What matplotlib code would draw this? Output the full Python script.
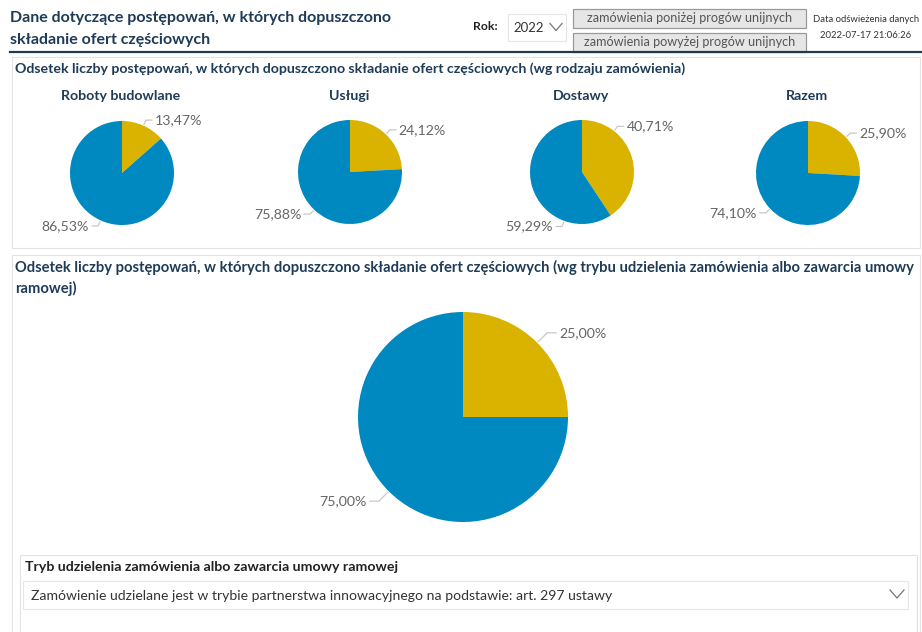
import numpy as np
import matplotlib.pyplot as plt
from matplotlib.patches import Rectangle

W, H = 922, 632

rodzaje = ['Roboty budowlane', 'Usługi', 'Dostawy', 'Razem']
dopuszczono = [13.47, 24.12, 40.71, 25.90]
niedopuszczono = [86.53, 75.88, 59.29, 74.10]

tryb_dopuszczono = 25.00
tryb_niedopuszczono = 75.00

rok = '2022'
odswiezenie = '2022-07-17 21:06:26'
tryb = 'Zamówienie udzielane jest w trybie partnerstwa innowacyjnego na podstawie: art. 297 ustawy'

ZOLTY = '#D9B300'
NIEBIESKI = '#0089C0'
GRANAT = '#1E3B57'
SZARY = '#666666'
LINIA = '#C8C8C8'

plt.rcParams['font.family'] = ['Lato', 'DejaVu Sans']

fig = plt.figure(figsize=(W / 100, H / 100), dpi=100)
bg = fig.add_axes([0, 0, 1, 1])
bg.set_xlim(0, W)
bg.set_ylim(H, 0)
bg.axis('off')


def ramka(x0, y0, x1, y1, kolor='#E3E3E3', fill='none', lw=0.8):
    bg.add_patch(Rectangle((x0, y0), x1 - x0, y1 - y0, facecolor=fill,
                           edgecolor=kolor, lw=lw))


def chevron(x, y, w=7, h=4, kolor='#777777'):
    bg.plot([x - w, x, x + w], [y - h, y + h, y - h], color=kolor, lw=0.9)


def fmt(v):
    return f'{v:.2f}%'.replace('.', ',')


def kolo(cx, cy, r, wartosci, katy=None, wydl=6, poz=6, rozm=10.2):
    ax = fig.add_axes([(cx - r) / W, 1 - (cy + r) / H, 2 * r / W, 2 * r / H])
    wedges, _ = ax.pie(wartosci, colors=[ZOLTY, NIEBIESKI], startangle=90,
                       counterclock=False, radius=1,
                       wedgeprops=dict(linewidth=0))
    ax.set_xlim(-1, 1)
    ax.set_ylim(-1, 1)
    for i, (w, v) in enumerate(zip(wedges, wartosci)):
        # etykieta w polowie wycinka, chyba ze kat podany recznie
        kat = (w.theta1 + w.theta2) / 2 if katy is None else katy[i]
        c, s = np.cos(np.radians(kat)), np.sin(np.radians(kat))
        znak = 1 if c >= 0 else -1
        r0 = (r + 1.5) / r
        r1 = (r + wydl) / r
        x1, y1 = r1 * c, r1 * s
        x2 = x1 + znak * poz / r
        ax.plot([r0 * c, x1, x2], [r0 * s, y1, y1], color=LINIA, lw=0.9,
                clip_on=False)
        ax.text(x2 + znak * 3 / r, y1, fmt(v), ha='left' if znak > 0 else 'right',
                va='center', color=SZARY, fontsize=rozm)


# naglowek
bg.text(10, 18, 'Dane dotyczące postępowań, w których dopuszczono', fontsize=11.5,
        fontweight='bold', color=GRANAT, va='center')
bg.text(10, 40, 'składanie ofert częściowych', fontsize=11.5,
        fontweight='bold', color=GRANAT, va='center')
bg.plot([10, W], [52, 52], color='#1F3B4D', lw=1.6)

bg.text(473, 27, 'Rok:', fontsize=8.8, fontweight='bold', color='#222222', va='center')
ramka(508, 14, 566, 41, kolor='#E6E6E6')
bg.text(513, 28, rok, fontsize=9.5, color='#333333', va='center')
chevron(556, 27, w=6, h=3.5)

for y0, napis in [(9, 'zamówienia poniżej progów unijnych'),
                  (33, 'zamówienia powyżej progów unijnych')]:
    ramka(573, y0, 806, y0 + 19, kolor='#9A9A9A', fill='#E6E6E6', lw=0.9)
    bg.text(689.5, y0 + 9.5, napis, fontsize=9.1, color='#555555',
            ha='center', va='center')

bg.text(866, 19, 'Data odświeżenia danych', fontsize=6.8, color='#333333',
        ha='center', va='center')
bg.text(866, 36, odswiezenie, fontsize=6.8, color='#333333',
        ha='center', va='center')

# panel 1
ramka(12, 57, 920, 248)
bg.text(15, 69, 'Odsetek liczby postępowań, w których dopuszczono składanie ofert '
        'częściowych (wg rodzaju zamówienia)', fontsize=10.2, fontweight='bold',
        color=GRANAT, va='center')

srodki = [(122, 173), (350, 172), (582, 172), (808, 173)]
katy_nadpisane = [None, None, [52, -110], None]
for nazwa, d, n, (cx, cy), katy in zip(rodzaje, dopuszczono, niedopuszczono,
                                       srodki, katy_nadpisane):
    bg.text(cx - 1, 96, nazwa, fontsize=10.2, fontweight='bold', color=GRANAT,
            ha='center', va='center')
    kolo(cx, cy, 52, [d, n], katy=katy)

# panel 2
ramka(12, 255, 920, 640)
bg.text(15, 267, 'Odsetek liczby postępowań, w których dopuszczono składanie ofert '
        'częściowych (wg trybu udzielenia zamówienia albo zawarcia umowy',
        fontsize=10.6, fontweight='bold', color=GRANAT, va='center')
bg.text(15, 288, 'ramowej)', fontsize=10.6, fontweight='bold', color=GRANAT,
        va='center')

kolo(463, 417, 105, [tryb_dopuszczono, tryb_niedopuszczono], wydl=14, poz=9)

# fragmentator
ramka(20, 555, 917, 640)
bg.text(25, 567, 'Tryb udzielenia zamówienia albo zawarcia umowy ramowej',
        fontsize=10.2, fontweight='bold', color='#222222', va='center')
ramka(23, 581, 908, 609, kolor='#E6E6E6')
bg.text(31, 596, tryb, fontsize=10.1, color='#333333', va='center')
chevron(897, 594, w=7, h=4)

fig.savefig('out.png', dpi=100)
